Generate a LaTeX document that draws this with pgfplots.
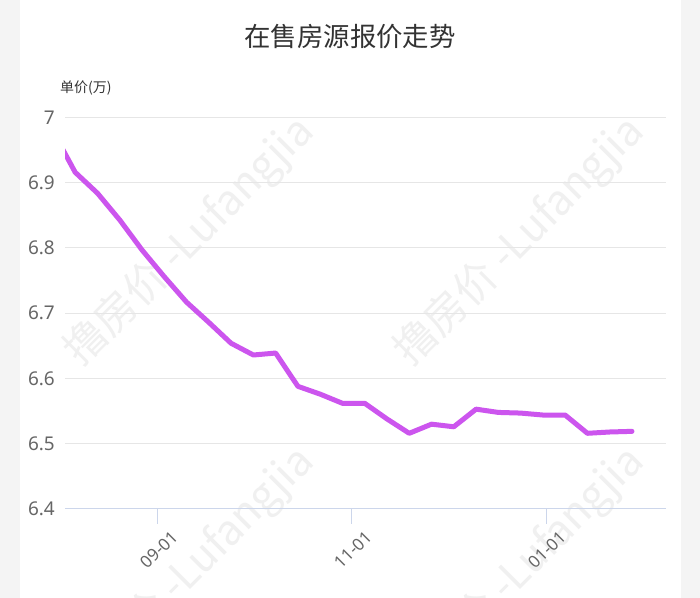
\documentclass[border=0pt]{standalone}
\usepackage{fontspec}
\setmainfont{Noto Sans}
\newfontfamily\cjk{Noto Sans CJK SC}
\usepackage{pgfplots}
\pgfplotsset{compat=1.18}
\definecolor{linec}{HTML}{CC55EE}
\definecolor{bggray}{HTML}{F4F4F4}
\definecolor{gridc}{HTML}{E6E6E6}
\definecolor{axisc}{HTML}{CCD6EB}
\definecolor{labc}{HTML}{666666}
\definecolor{titlec}{HTML}{333333}
\definecolor{wm}{HTML}{F0F0F0}
\pgfplotstableread{
d v
-33 6.979
-26 6.916
-19 6.884
-12 6.843
-5 6.797
2 6.756
9 6.717
16 6.686
23 6.654
30 6.636
37 6.639
44 6.588
51 6.576
58 6.562
65 6.562
72 6.538
79 6.516
86 6.530
93 6.526
100 6.553
107 6.548
114 6.547
121 6.544
128 6.544
135 6.516
142 6.518
149 6.519
}\pricedata
\begin{document}
\begin{tikzpicture}[x=1bp,y=1bp]
\useasboundingbox (0,0) rectangle (700,598);
\fill[bggray] (0,0) rectangle (700,598);
\fill[white] (20,0) rectangle (681,598);
\begin{scope}
\clip (20,0) rectangle (681,598);
\foreach \cx/\cy in {190/356,520/356,190/26,520/26}{
  \node[rotate=45, text=wm, font=\cjk\fontsize{42}{42}\selectfont] at (\cx,\cy) {撸房价 -Lufangjia};
}
\end{scope}
\node[font=\cjk\fontsize{26.5}{26.5}\selectfont, text=titlec] at (350,561) {在售房源报价走势};
\node[anchor=west, font=\cjk\fontsize{14}{14}\selectfont, text=titlec, inner sep=0] at (60,510) {单价(万)};
\begin{axis}[
  at={(65bp,89bp)}, anchor=south west,
  scale only axis, width=601bp, height=391.5bp,
  xmin=-29.2, xmax=159.7, ymin=6.4, ymax=7,
  ytick={6.4,6.5,6.6,6.7,6.8,6.9,7},
  xtick={0,61,122}, xticklabels={09-01,11-01,01-01},
  /pgf/number format/assume math mode=true,
  axis x line*=bottom, axis y line*=left,
  y axis line style={draw=none},
  x axis line style={draw=axisc, line width=1bp, -},
  ytick style={draw=none},
  xtick style={draw=axisc, line width=1bp},
  tick align=outside, major tick length=15bp,
  ymajorgrids, grid style={draw=gridc, line width=1bp},
  yticklabel style={font=\fontsize{19}{19}\selectfont, text=labc, anchor=east, inner sep=0pt, xshift=5bp},
  xticklabel style={font=\fontsize{17}{17}\selectfont, text=labc, xshift=17bp, yshift=-10bp, rotate=45, anchor=east, inner sep=0pt},
]
\addplot[linec, line width=5bp, line join=round, line cap=round] table[x=d, y=v] {\pricedata};
\end{axis}
\end{tikzpicture}
\end{document}
